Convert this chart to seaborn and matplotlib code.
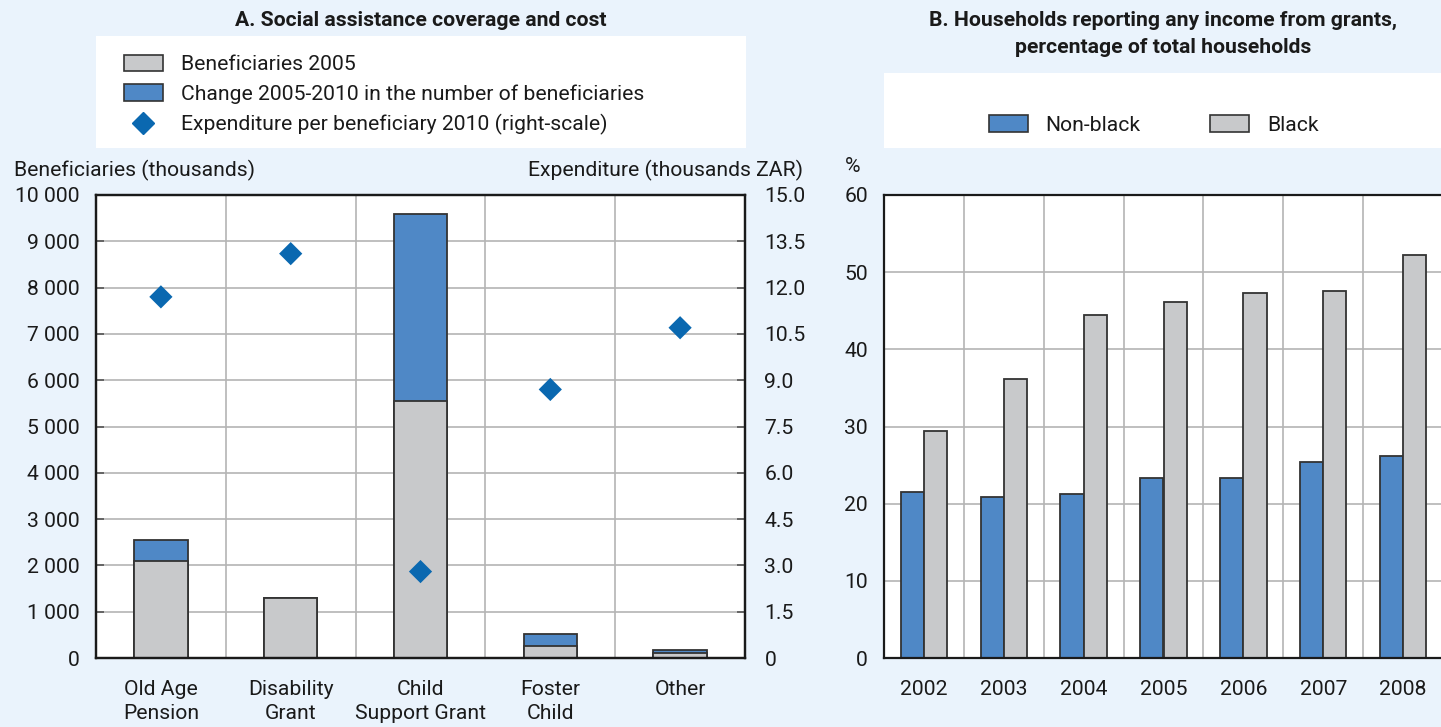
import numpy as np
import pandas as pd
import seaborn as sns
import matplotlib.pyplot as plt
from matplotlib.patches import Patch, Rectangle
from matplotlib.lines import Line2D
from matplotlib.ticker import FuncFormatter, MultipleLocator

sns.set_theme(style="white")
plt.rcParams["font.family"] = ["Liberation Sans Narrow", "DejaVu Sans Condensed", "Roboto", "DejaVu Sans"]

# colours
bg = "#EAF3FC"
blue = "#4F88C6"
grey = "#C8C9CB"
diamond = "#0A68B0"
edge = "#333333"
gridc = "#B4B4B4"

# panel A data (thousands of beneficiaries, thousands ZAR)
grants = ["Old Age\nPension", "Disability\nGrant", "Child\nSupport Grant", "Foster\nChild", "Other"]
benef_2005 = [2100, 1300, 5550, 250, 110]
benef_change = [450, 0, 4040, 270, 70]
exp_per_benef = [11.7, 13.1, 2.8, 8.7, 10.7]

# panel B data (% of households)
years = ["2002", "2003", "2004", "2005", "2006", "2007", "2008"]
non_black = [21.5, 20.9, 21.2, 23.3, 23.3, 25.4, 26.2]
black = [29.4, 36.2, 44.5, 46.1, 47.3, 47.6, 52.2]

dfa = pd.DataFrame({"grant": grants, "b2005": benef_2005,
                    "change": benef_change, "exp": exp_per_benef})
dfa["total"] = dfa["b2005"] + dfa["change"]

dfb = pd.DataFrame({"year": years * 2,
                    "group": ["Non-black"] * len(years) + ["Black"] * len(years),
                    "value": non_black + black})

W, H = 1441, 727
fig = plt.figure(figsize=(W / 100, H / 100), dpi=100, facecolor=bg)


def box(l, t, r, b):
    # pixel box -> figure fraction rect
    return [l / W, 1 - b / H, (r - l) / W, (b - t) / H]


FS = 15.2

# white legend backgrounds
fig.add_artist(Rectangle((96 / W, 1 - 148 / H), 650 / W, 112 / H, transform=fig.transFigure,
                         facecolor="white", edgecolor="none", zorder=0))
fig.add_artist(Rectangle((884 / W, 1 - 148 / H), 560 / W, 75 / H, transform=fig.transFigure,
                         facecolor="white", edgecolor="none", zorder=0))


def style_axes(ax):
    ax.set_facecolor("white")
    for s in ax.spines.values():
        s.set_color("#1a1a1a")
        s.set_linewidth(1.6)
    ax.set_axisbelow(True)
    ax.yaxis.grid(True, color=gridc, linewidth=1.2)
    ax.xaxis.grid(True, which="minor", color=gridc, linewidth=1.2)
    ax.xaxis.grid(False, which="major")
    ax.tick_params(axis="x", which="major", length=0, pad=16, labelsize=FS, colors="#1a1a1a")
    ax.tick_params(axis="x", which="minor", direction="in", length=6, width=1.6, color="#1a1a1a")
    ax.tick_params(axis="y", direction="in", length=6, width=1.2, color="#555555",
                   labelsize=FS, labelcolor="#1a1a1a", pad=11.5)
    ax.set_xlabel("")
    ax.set_ylabel("")


# ---------------- Panel A ----------------
ax1 = fig.add_axes(box(96, 195, 745, 658))
sns.barplot(data=dfa, x="grant", y="total", color=blue, saturation=1, width=0.41,
            edgecolor=edge, linewidth=1.3, ax=ax1)
sns.barplot(data=dfa, x="grant", y="b2005", color=grey, saturation=1, width=0.41,
            edgecolor=edge, linewidth=1.3, ax=ax1)
ax1.set_xlim(-0.5, len(grants) - 0.5)
ax1.set_ylim(0, 10000)
ax1.yaxis.set_major_locator(MultipleLocator(1000))
ax1.yaxis.set_major_formatter(FuncFormatter(lambda v, p: f"{int(v):,}".replace(",", " ")))
ax1.set_xticks(np.arange(len(grants) - 1) + 0.5, minor=True)
style_axes(ax1)
ax1.tick_params(axis="y", right=False)
for lab in ax1.get_xticklabels():
    lab.set_linespacing(1.35)

ax2 = ax1.twinx()
sns.scatterplot(x=np.arange(len(grants)), y=dfa["exp"], marker="D", s=140, color=diamond,
                edgecolor="none", ax=ax2, zorder=5)
ax2.set_ylim(0, 15)
ax2.yaxis.set_major_locator(MultipleLocator(1.5))
ax2.yaxis.set_major_formatter(FuncFormatter(lambda v, p: "0" if v == 0 else f"{v:.1f}"))
ax2.tick_params(axis="y", direction="in", length=6, width=1.2, color="#555555",
                labelsize=FS, labelcolor="#1a1a1a", pad=14)
ax2.set_ylabel("")
for s in ax2.spines.values():
    s.set_color("#1a1a1a")
    s.set_linewidth(1.6)
ax2.grid(False)

# ---------------- Panel B ----------------
ax3 = fig.add_axes(box(884, 195, 1443, 658))
sns.barplot(data=dfb, x="year", y="value", hue="group",
            palette={"Non-black": blue, "Black": grey}, saturation=1, width=0.58,
            edgecolor=edge, linewidth=1.3, legend=False, ax=ax3)
ax3.set_xlim(-0.5, len(years) - 0.5)
ax3.set_ylim(0, 60)
ax3.yaxis.set_major_locator(MultipleLocator(10))
ax3.set_xticks(np.arange(len(years) - 1) + 0.5, minor=True)
style_axes(ax3)
ax3.tick_params(axis="x", which="major", pad=16)

# ---------------- texts ----------------
fig.text(421 / W, 1 - 20 / H, "A. Social assistance coverage and cost", ha="center",
         va="center", fontsize=FS, fontweight="bold", color="#1a1a1a")
fig.text(1163 / W, 1 - 34 / H,
         "B. Households reporting any income from grants,\npercentage of total households",
         ha="center", va="center", fontsize=FS, fontweight="bold", color="#1a1a1a",
         linespacing=1.55)
fig.text(14 / W, 1 - 170 / H, "Beneficiaries (thousands)", ha="left", va="center",
         fontsize=FS, color="#1a1a1a")
fig.text(803 / W, 1 - 170 / H, "Expenditure (thousands ZAR)", ha="right", va="center",
         fontsize=FS, color="#1a1a1a")
fig.text(853 / W, 1 - 167 / H, "%", ha="center", va="center", fontsize=FS, color="#1a1a1a")

# ---------------- legends ----------------
hA = [Patch(facecolor=grey, edgecolor=edge, linewidth=1.2),
      Patch(facecolor=blue, edgecolor=edge, linewidth=1.2),
      Line2D([], [], marker="D", color=diamond, linestyle="none", markersize=11)]
lA = ["Beneficiaries 2005", "Change 2005-2010 in the number of beneficiaries",
      "Expenditure per beneficiary 2010 (right-scale)"]
fig.legend(hA, lA, loc="center left", bbox_to_anchor=(113 / W, 1 - 95 / H), frameon=False,
           fontsize=FS, borderpad=0, handlelength=1.85, handleheight=0.85,
           handletextpad=0.85, labelspacing=0.48, labelcolor="#1a1a1a")

hB = [Patch(facecolor=blue, edgecolor=edge, linewidth=1.2),
      Patch(facecolor=grey, edgecolor=edge, linewidth=1.2)]
fig.legend(hB, ["Non-black", "Black"], loc="center left", bbox_to_anchor=(978 / W, 1 - 125 / H),
           ncol=2, frameon=False, fontsize=FS, borderpad=0, handlelength=1.85,
           handleheight=0.85, handletextpad=0.85, columnspacing=3.3, labelcolor="#1a1a1a")

fig.savefig("out.png", dpi=100, facecolor=bg)
